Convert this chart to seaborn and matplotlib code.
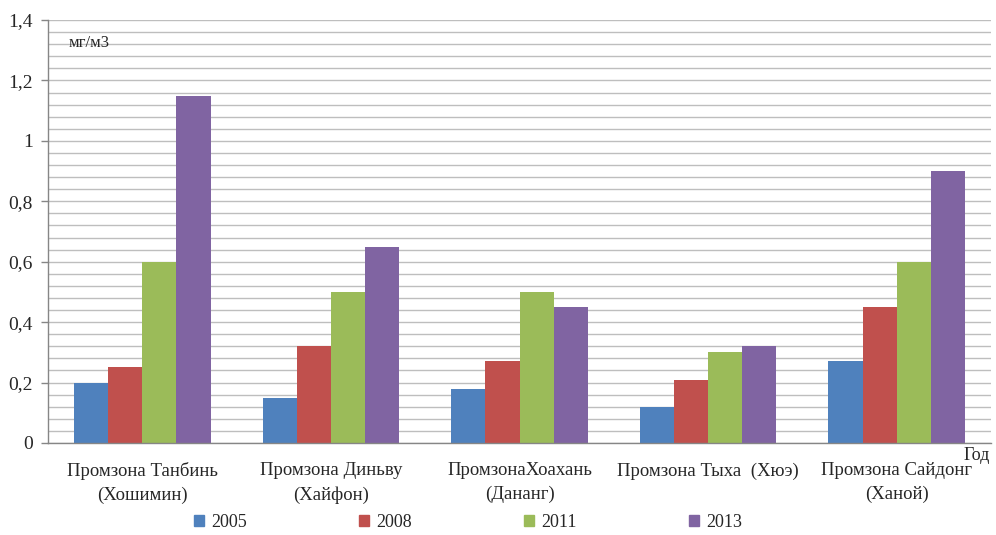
import numpy as np
import pandas as pd
import matplotlib
matplotlib.use("Agg")
import matplotlib.pyplot as plt
import seaborn as sns
from matplotlib.ticker import MultipleLocator, FuncFormatter

zones = [
    "Промзона Танбинь\n(Хошимин)",
    "Промзона Диньву\n(Хайфон)",
    "ПромзонаХоахань\n(Дананг)",
    "Промзона Тыха  (Хюэ)",
    "Промзона Сайдонг\n(Ханой)",
]
years = ["2005", "2008", "2011", "2013"]
v2005 = [0.20, 0.15, 0.18, 0.12, 0.27]
v2008 = [0.25, 0.32, 0.27, 0.21, 0.45]
v2011 = [0.60, 0.50, 0.50, 0.30, 0.60]
v2013 = [1.15, 0.65, 0.45, 0.32, 0.90]
colors = ["#4F81BD", "#C0504D", "#9BBB59", "#8064A2"]

rows = []
for yr, vals in zip(years, [v2005, v2008, v2011, v2013]):
    for z, v in zip(zones, vals):
        rows.append({"zone": z, "year": yr, "value": v})
df = pd.DataFrame(rows)

sns.set_style("white")
plt.rcParams["font.family"] = ["Liberation Serif", "DejaVu Serif"]

fig = plt.figure(figsize=(9.96, 5.35), dpi=100)
ax = fig.add_axes([0.0482, 0.172, 0.9468, 0.7906])

sns.barplot(data=df, x="zone", y="value", hue="year", order=zones,
            hue_order=years, palette=colors, width=0.725, gap=0,
            saturation=1, edgecolor="none", linewidth=0, ax=ax,
            legend=False, errorbar=None)

ax.set_ylim(0, 1.4)
ax.set_xlim(-0.5, len(zones) - 0.5)
ax.yaxis.set_major_locator(MultipleLocator(0.2))
ax.yaxis.set_minor_locator(MultipleLocator(0.04))
ax.yaxis.set_major_formatter(FuncFormatter(
    lambda v, p: ("%g" % round(v, 2)).replace(".", ",")))
ax.grid(True, axis="y", which="both", color="#BEBEBE", linewidth=1.0)
ax.set_axisbelow(True)

ax.set_xticks(range(len(zones)))
ax.set_xticklabels(zones, fontsize=13.5, linespacing=1.5)
ax.set_xticks(np.arange(-0.5, len(zones) + 0.5, 1), minor=True)
ax.tick_params(axis="x", which="major", length=0, pad=14)
ax.tick_params(axis="x", which="minor", length=7, color="#868686", width=1)
ax.tick_params(axis="y", which="major", length=5, color="#868686",
               width=1, labelsize=14, pad=6, left=True)
ax.tick_params(axis="y", which="minor", length=0)

for s in ["top", "right"]:
    ax.spines[s].set_visible(False)
for s in ["left", "bottom"]:
    ax.spines[s].set_color("#868686")
    ax.spines[s].set_linewidth(1)

ax.set_xlabel("")
ax.set_ylabel("")

ax.text(0.022, 0.945, "мг/м3", transform=ax.transAxes, fontsize=12,
        ha="left", va="center")
ax.text(0.999, -0.03, "Год", transform=ax.transAxes, fontsize=13,
        ha="right", va="center")

handles = [plt.Rectangle((0, 0), 1, 1, color=c) for c in colors]
fig.legend(handles, years, loc="center", bbox_to_anchor=(0.47, 0.024),
           ncol=4, frameon=False, fontsize=13, handlelength=0.55,
           handleheight=0.55, handletextpad=0.4, columnspacing=6.2)

fig.savefig("out.png", dpi=100)
